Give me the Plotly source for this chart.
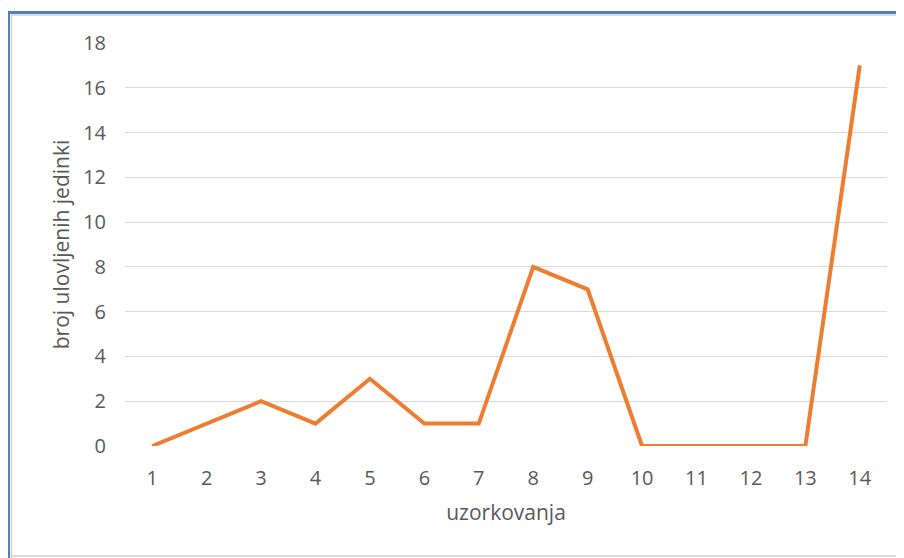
import plotly.graph_objects as go

# data
uzorkovanja = [str(i) for i in range(1, 15)]
broj_jedinki = [0, 1, 2, 1, 3, 1, 1, 8, 7, 0, 0, 0, 0, 17]
y_ticks = [0, 2, 4, 6, 8, 10, 12, 14, 16, 18]

# the page body has an 8px margin, so the figure is a bit smaller
OFF = 8
W, H = 904 - OFF, 558 - OFF
ML, MR, MT, MB = 125 - OFF, 17, 43 - OFF, 112
PW, PH = W - ML - MR, H - MT - MB


def px(x):
    # screen x -> paper x
    return (x - OFF - ML) / PW


def py(y):
    # screen y -> paper y
    return (H - MB - (y - OFF)) / PH


fig = go.Figure(go.Scatter(
    x=uzorkovanja,
    y=broj_jedinki,
    mode='lines',
    line=dict(color='#ED7D31', width=4),
))

grey = '#595959'
fig.update_layout(
    width=W, height=H,
    margin=dict(l=ML, r=MR, t=MT, b=MB),
    paper_bgcolor='white', plot_bgcolor='white',
    showlegend=False,
    font=dict(family='Open Sans, Liberation Sans, sans-serif', color=grey),
    xaxis=dict(
        title=dict(text='uzorkovanja', font=dict(size=21, color=grey), standoff=15),
        tickfont=dict(size=20, color=grey),
        showgrid=False, zeroline=False, showline=False,
        ticks='outside', ticklen=14, tickcolor='rgba(0,0,0,0)',
        range=[-0.5, 13.5],
    ),
    yaxis=dict(
        title=dict(text='broj ulovljenih jedinki', font=dict(size=21, color=grey), standoff=7),
        tickfont=dict(size=20, color=grey),
        tickvals=y_ticks,
        range=[0, 18],
        showgrid=True, gridcolor='#d9d9d9', gridwidth=1,
        zeroline=False, showline=False,
        ticks='outside', ticklen=14, tickcolor='rgba(0,0,0,0)',
    ),
    shapes=[
        # frame of the screenshot
        dict(type='line', xref='paper', yref='paper', x0=px(8.5), x1=px(8.5), y0=py(11), y1=py(560),
             line=dict(color='#4F81BD', width=3)),
        dict(type='line', xref='paper', yref='paper', x0=px(7), x1=px(906), y0=py(12.5), y1=py(12.5),
             line=dict(color='#4F81BD', width=3)),
        dict(type='line', xref='paper', yref='paper', x0=px(11.5), x1=px(11.5), y0=py(15), y1=py(560),
             line=dict(color='#d0d0d0', width=1.5)),
        dict(type='line', xref='paper', yref='paper', x0=px(11), x1=px(906), y0=py(15), y1=py(15),
             line=dict(color='#d0d0d0', width=1.5)),
        dict(type='line', xref='paper', yref='paper', x0=px(11), x1=px(906), y0=py(556), y1=py(556),
             line=dict(color='#d0d0d0', width=1.5)),
    ],
)

fig.write_html("out.html")
